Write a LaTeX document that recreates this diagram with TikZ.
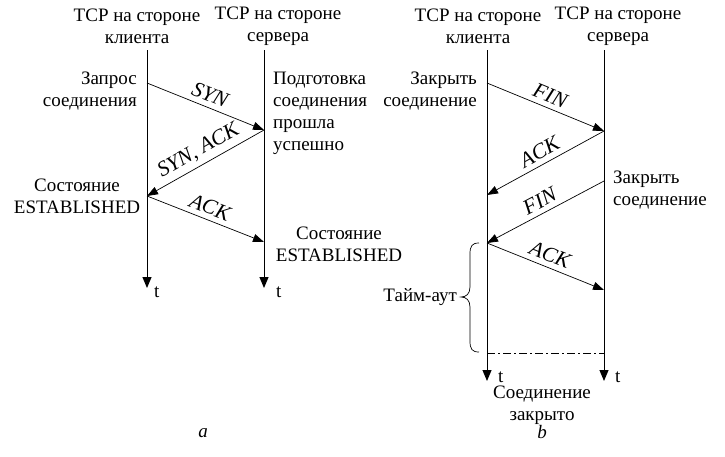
\documentclass[tikz,border=0pt]{standalone}
\usepackage{fontspec}
\setmainfont{Liberation Serif}
\usetikzlibrary{arrows.meta}
\begin{document}
\begin{tikzpicture}[x=1pt,y=-1pt,
  font=\fontsize{19}{22}\selectfont,
  life/.style={line width=1pt,-{Triangle[length=11pt,width=9pt]}},
  msg/.style={line width=0.7pt,-{Triangle[length=11pt,width=8pt]}},
  lbl/.style={midway,above,sloped,inner sep=5pt,font=\fontsize{21.5}{22}\selectfont\itshape},
  txt/.style={inner sep=0pt,align=center},
  txtl/.style={inner sep=0pt,align=left},
  txtr/.style={inner sep=0pt,align=right}]
\useasboundingbox (0,0) rectangle (725,456);
% ---------- (a) ----------
\node[txt] (ha1) at (137,26) {TCP на стороне\\клиента};
\node[txt] (ha2) at (278,26) {TCP на стороне\\сервера};
\coordinate (ca) at (147,50);
\coordinate (cb) at (147,288);
\coordinate (sa) at (264,50);
\coordinate (sb) at (264,288);
\draw[life] (ca) -- (cb);
\draw[life] (sa) -- (sb);
\node[inner sep=0pt,anchor=west] (ta1) at (154,292) {t};
\node[inner sep=0pt,anchor=west] (ta2) at (276,292) {t};
\coordinate (a1) at (147,83);
\coordinate (a2) at (264,130);
\coordinate (a3) at (147,196);
\coordinate (a4) at (264,242);
\draw[msg] (a1) -- node[lbl] {SYN} (a2);
\draw[msg] (a2) -- node[lbl] {SYN, ACK} (a3);
\draw[msg] (a3) -- node[lbl] {ACK} (a4);
\node[txtr,anchor=north east] (za) at (137,72) {Запрос\\соединения};
\node[txtl,anchor=north west] (pa) at (273,72) {Подготовка\\соединения\\прошла\\успешно};
\node[txt] (esa) at (77,196) {Состояние\\ESTABLISHED};
\node[txt] (esb) at (339,244) {Состояние\\ESTABLISHED};
\node[inner sep=0pt] (la) at (203,433) {\itshape a};
% ---------- (b) ----------
\node[txt] (hb1) at (478,26) {TCP на стороне\\клиента};
\node[txt] (hb2) at (618,26) {TCP на стороне\\сервера};
\coordinate (cc) at (487,50);
\coordinate (cd) at (487,381);
\coordinate (sc) at (604,50);
\coordinate (sd) at (604,381);
\draw[life] (cc) -- (cd);
\draw[life] (sc) -- (sd);
\node[inner sep=0pt,anchor=west] (tb1) at (498,377) {t};
\node[inner sep=0pt,anchor=west] (tb2) at (615,377) {t};
\coordinate (b1) at (487,83);
\coordinate (b2) at (604,131);
\coordinate (b3) at (487,195);
\coordinate (b4) at (604,181);
\coordinate (b5) at (487,243);
\coordinate (b6) at (604,290);
\draw[msg] (b1) -- node[lbl] {FIN} (b2);
\draw[msg] (b2) -- node[lbl] {ACK} (b3);
\draw[msg] (b4) -- node[lbl] {FIN} (b5);
\draw[msg] (b5) -- node[lbl] {ACK} (b6);
\node[txtr,anchor=north east] (zb) at (477,72) {Закрыть\\соединение};
\node[txtl,anchor=north west] (zs) at (613,171) {Закрыть\\соединение};
\coordinate (d1) at (487,353);
\coordinate (d2) at (604,353);
\draw[line width=0.8pt,dash pattern=on 8pt off 3pt on 2pt off 3pt] (d1) -- (d2);
\coordinate (br1) at (479,243);
\coordinate (br2) at (479,352);
\coordinate (brt) at (461,297);
\draw[line width=0.7pt] (br1) .. controls (472,243) and (470,246) .. (470,254)
  -- (470,287) .. controls (470,294) and (466,297) .. (brt)
  .. controls (466,297) and (470,300) .. (470,307)
  -- (470,341) .. controls (470,349) and (472,352) .. (br2);
\node[inner sep=0pt,anchor=east] (to) at (457,297) {Тайм-аут};
\node[txt] (cz) at (542,405) {Соединение\\закрыто};
\node[inner sep=0pt] (lb) at (542,432) {\itshape b};
\end{tikzpicture}
\end{document}
